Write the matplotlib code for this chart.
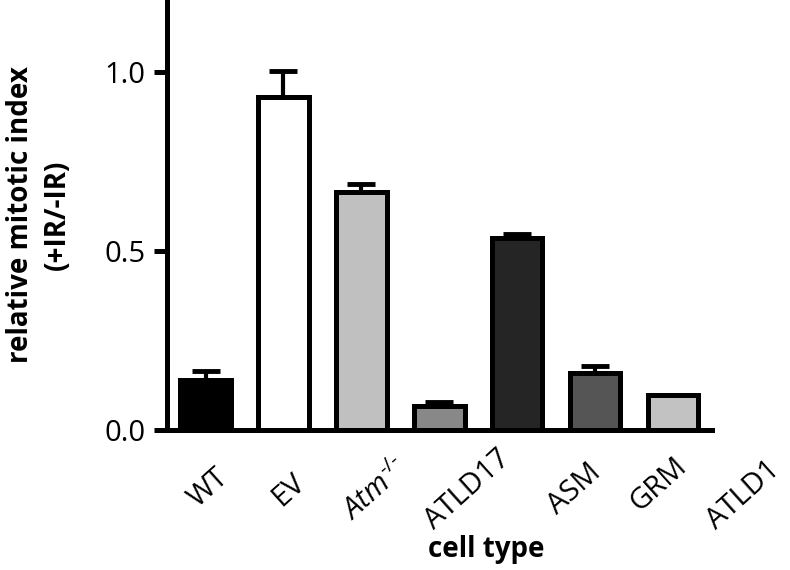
import matplotlib.pyplot as plt
import matplotlib.transforms as mtransforms
import numpy as np

plt.rcParams['font.family'] = ['Open Sans', 'DejaVu Sans']
plt.rcParams['mathtext.fontset'] = 'custom'
plt.rcParams['mathtext.rm'] = 'Open Sans'
plt.rcParams['mathtext.it'] = 'Open Sans:italic'

# datos
tipos = ["WT", "EV", r"$\mathit{Atm}^{\text{-/-}}$", "ATLD17", "ASM", "GRM", "ATLD1"]
indice = [0.14, 0.93, 0.665, 0.066, 0.536, 0.158, 0.098]
error = [0.025, 0.072, 0.022, 0.012, 0.012, 0.02, 0.0]
colores = ["#000000", "#ffffff", "#c0c0c0", "#888888", "#252525", "#555555", "#c2c2c2"]

# desplazamiento de cada etiqueta (px) respecto a su barra, como en la figura original
dx_etiqueta = [-8, -2, -9, -5, 40, 44, 43]
dy_etiqueta = [78, 77, 92, 100, 85, 82, 100]

fig = plt.figure(figsize=(7.9, 5.7), dpi=100)
ax = fig.add_axes([0.211, 0.246, 0.69, 0.754])

x = np.arange(len(tipos))
ax.bar(x, indice, width=0.65, color=colores, edgecolor="black", linewidth=3.6, zorder=2)
ax.errorbar(x, indice, yerr=[np.zeros(len(error)), error], fmt="none", ecolor="black",
            elinewidth=3, capsize=10, capthick=3.5, zorder=1)

ax.set_xlim(-0.5, 6.5)
ax.set_ylim(0, 1.2)
ax.set_yticks([0.0, 0.5, 1.0])
ax.set_yticklabels(["0.0", "0.5", "1.0"], fontsize=21)
ax.set_xticks(x)
ax.set_xticklabels([])

# etiquetas de categoria giradas
base = ax.get_xaxis_transform()
for xi, nombre, dx, dy in zip(x, tipos, dx_etiqueta, dy_etiqueta):
    offset = mtransforms.ScaledTranslation(dx / 100, -dy / 100, fig.dpi_scale_trans)
    ax.text(xi, 0, nombre, transform=base + offset, fontsize=21, rotation=42,
            ha="left", va="baseline", rotation_mode="anchor", clip_on=False)

for s in ["top", "right"]:
    ax.spines[s].set_visible(False)
for s in ["left", "bottom"]:
    ax.spines[s].set_linewidth(3.6)
ax.tick_params(axis="y", direction="out", length=9.5, width=3.6, pad=6)
ax.tick_params(axis="x", length=0, pad=0)

ax.set_ylabel("relative mitotic index\n(+IR/-IR)", fontsize=20, fontweight="bold", linespacing=1.35)
ax.yaxis.set_label_coords(-0.174, 0.5)
ax.set_xlabel("cell type", fontsize=20, fontweight="bold", va="top")
ax.xaxis.set_label_coords(0.587, -0.245)

plt.savefig("out.png")
